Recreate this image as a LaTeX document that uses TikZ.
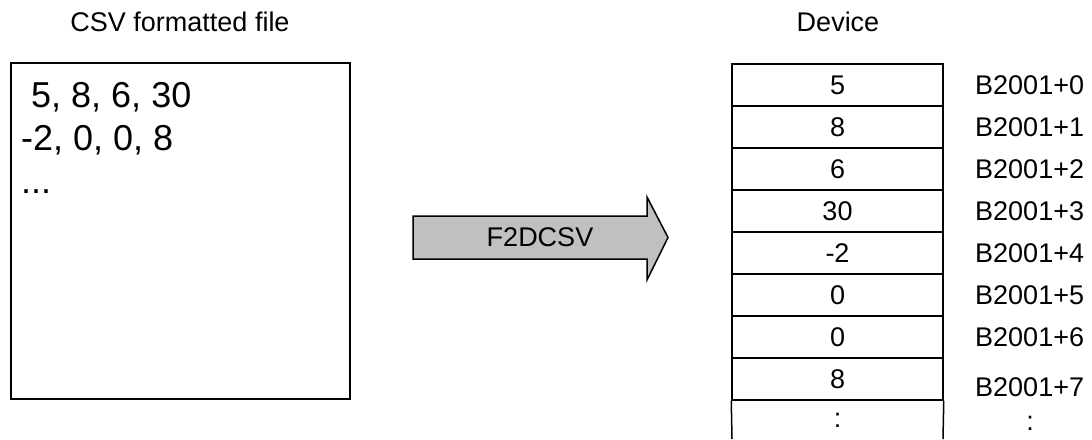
\documentclass[tikz,border=0pt]{standalone}
\usepackage{fontspec}
\setmainfont{Liberation Sans}
\begin{document}
\begin{tikzpicture}[x=1pt,y=-1pt,
  title/.style={font=\fontsize{27}{31}\selectfont, inner sep=0pt},
  csvtext/.style={font=\fontsize{36}{40}\selectfont, inner sep=0pt, anchor=base west},
  cell/.style={draw, line width=1.5pt, minimum width=211pt, minimum height=42pt, inner sep=0pt, font=\fontsize{27}{31}\selectfont},
  addr/.style={font=\fontsize{27}{31}\selectfont, inner sep=0pt, anchor=west},
  frame/.style={draw, line width=1.5pt}]
\useasboundingbox (0,0) rectangle (1092,439);
% titles
\node[title] (t1) at (180,22) {CSV formatted file};
\node[title] (t2) at (838,22) {Device};
% CSV file box
\node[frame, minimum width=339pt, minimum height=336pt, inner sep=0pt] (csv) at (180.5,231) {};
\node[csvtext] (l1) at (31,107) {5, 8, 6, 30};
\node[csvtext] (l2) at (21,150) {-2, 0, 0, 8};
\node[csvtext] (l3) at (21,193) {...};
% arrow
\draw[line width=1.5pt, fill={rgb,255:red,192;green,192;blue,192}, line join=miter]
  (413,216) -- (647,216) -- (647,197) -- (668,237.5) -- (647,280) -- (647,259) -- (413,259) -- cycle;
\node[title] (f) at (540,237.5) {F2DCSV};
% table
\foreach \v [count=\i from 0] in {5,8,6,30,-2,0,0,8} {
  \node[cell] (c\i) at (837.5,{85+42*\i}) {\v};
}
\coordinate (bl) at (732,439);
\coordinate (br) at (943,439);
\draw[line width=1.5pt] (c7.south west) -- (bl);
\draw[line width=1.5pt] (c7.south east) -- (br);
\node[font=\fontsize{27}{31}\selectfont, inner sep=0pt] (c8) at (837.5,420) {:};
% addresses
\foreach \i in {0,...,6} {
  \node[addr] (a\i) at (975,{85+42*\i}) {B2001+\i};
}
\node[addr] (a7) at (975,387) {B2001+7};
\node[font=\fontsize{27}{31}\selectfont, inner sep=0pt] (a8) at (1030,423) {:};
\end{tikzpicture}
\end{document}
